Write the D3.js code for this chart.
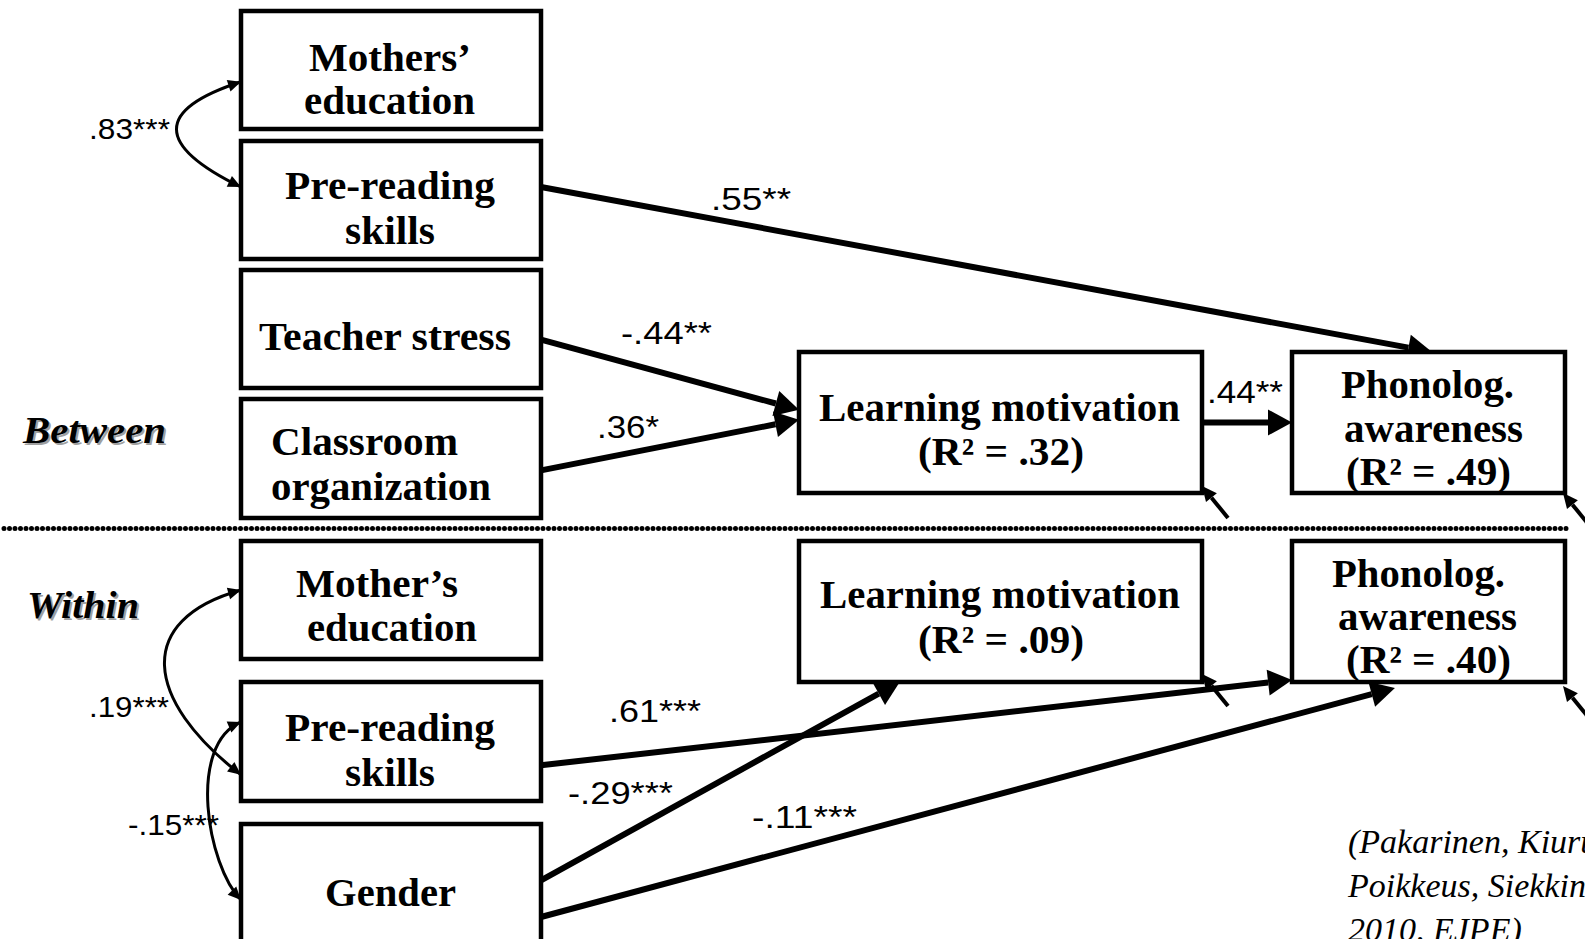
<!DOCTYPE html>
<html><head><meta charset="utf-8">
<script src="https://cdn.jsdelivr.net/npm/d3@7"></script>
<style>html,body{margin:0;padding:0;background:#fff;overflow:hidden}svg{display:block}</style>
</head><body>
<script>
// ---------------- DATA ----------------
const levels = ["Between", "Within"];
const nodeIds = ["motherB","preB","teacher","classroom","lmB","paB","motherW","preW","gender","lmW","paW"];
const nodeLabels = [
  ["Mothers’","education"], ["Pre-reading","skills"], ["Teacher stress"], ["Classroom","organization"],
  ["Learning motivation"], ["Phonolog.","awareness"],
  ["Mother’s","education"], ["Pre-reading","skills"], ["Gender"],
  ["Learning motivation"], ["Phonolog.","awareness"]
];
const r2Nodes = ["lmB","paB","lmW","paW"];
const r2Values = [".32",".49",".09",".40"];
// directed paths
const pathFrom = ["preB","teacher","classroom","lmB","preW","gender","gender"];
const pathTo   = ["paB","lmB","lmB","paB","paW","lmW","paW"];
const pathCoef = [".55**","-.44**",".36*",".44**",".61***","-.29***","-.11***"];
// correlations (double-headed)
const corrA = ["motherB","motherW","preW"];
const corrB = ["preB","preW","gender"];
const corrCoef = [".83***",".19***","-.15***"];
// residual (disturbance) arrows
const residualNodes = ["lmB","paB","lmW","paW"];
const citationLines = ["(Pakarinen, Kiuru, Lerkkanen,","Poikkeus, Siekkinen, & Nurmi,","2010, EJPE)"];

// ---------------- LAYOUT ----------------
const W = 1585, H = 939;
const nodeCol = ["pred","pred","pred","pred","med","out","pred","pred","pred","med","out"];
const colX = d3.scaleOrdinal().domain(["pred","med","out"]).range([241, 799, 1292]);
const colW = d3.scaleOrdinal().domain(["pred","med","out"]).range([300, 403, 273]);
const rowTop = d3.scaleOrdinal().domain(nodeIds).range([11,141,270,399,352,352,541,682,824,541,541]);
const rowH = d3.scaleOrdinal().domain(nodeIds).range([118,118,118,119,141,141,118,119,131,141,141]);
// text lines per node: [x, baseline, width]
const textLayout = {
  motherB:[[309,71,162],[304,114,171]],
  preB:[[285,199,210],[345,244,90]],
  teacher:[[259,350,252]],
  classroom:[[271,455,187],[271,500,220]],
  lmB:[[819,421,361],[918,465,166]],
  paB:[[1341,398,173],[1344,442,179],[1346,485,165]],
  motherW:[[296,597,162],[307,641,170]],
  preW:[[285,741,210],[345,786,90]],
  gender:[[325,906,131]],
  lmW:[[820,608,360],[918,653,166]],
  paW:[[1332,587,173],[1338,630,179],[1346,673,165]]
};
// path anchors: [fromSide, fromFrac, toSide, toFrac]
const pathAnchors = [
  ["right",0.39,"top",0.513],
  ["right",0.59,"left",0.41],
  ["right",0.60,"left",0.48],
  ["right",0.50,"left",0.50],
  ["right",0.70,"left",0.985],
  ["right",0.43,"bottom",0.25],
  ["right",0.71,"bottom",0.377]
];
const pathTipOffset = [[0,0],[0,0],[0,0],[0,0],[0,0],[0,0],[0,6]];
const pathLabelPos = [[711,210,80],[621,344,91],[597,438,62],[1207,403,76],[609,722,92],[568,804,105],[752,828,105]];
// correlations: [fracA, fracB, c1dx, c1dy, c2dx, c2dy]
const corrAnchors = [
  [0.60,0.39,-86,28,-86,-42],
  [0.415,0.78,-107,30,-97,-75],
  [0.336,0.58,-54,23,-34,-35]
];
const corrLabelPos = [[89,139,81],[89,717,80],[128,835,91]];
const levelLabelPos = [[23,443,143],[27,618,112]];
const residualTipOffset = [[0,-7],[-2,0],[0,-8],[-2,4]];
const residualVec = [26,32];

// ---------------- DRAW ----------------
const svg = d3.select("body").append("svg").attr("width",W).attr("height",H)
  .style("font-family","'Liberation Serif','Times New Roman',serif");
svg.append("rect").attr("width",W).attr("height",H).attr("fill","#fff");

function box(id){ const i = nodeIds.indexOf(id); return {x:colX(nodeCol[i]), y:rowTop(id), w:colW(nodeCol[i]), h:rowH(id)}; }
function anchor(id, side, f){
  const b = box(id);
  if (side==="right") return [b.x+b.w, b.y+f*b.h];
  if (side==="left") return [b.x, b.y+f*b.h];
  if (side==="top") return [b.x+f*b.w, b.y];
  return [b.x+f*b.w, b.y+b.h];
}
function head(tip, dir, L, hw){
  const len = Math.hypot(dir[0],dir[1]); const ux=dir[0]/len, uy=dir[1]/len;
  const bx = tip[0]-L*ux, by = tip[1]-L*uy;
  return [[tip[0],tip[1]],[bx-hw*uy, by+hw*ux],[bx+hw*uy, by-hw*ux]];
}
const gLines = svg.append("g");
const gBoxes = svg.append("g");
const gText = svg.append("g");

// dotted separator
gLines.append("line").attr("x1",4).attr("x2",1567).attr("y1",528.5).attr("y2",528.5)
  .attr("stroke","#000").attr("stroke-width",5).attr("stroke-dasharray","0 5.5").attr("stroke-linecap","round");

// boxes
gBoxes.selectAll("rect.node").data(nodeIds).join("rect").attr("class","node")
  .attr("x",d=>box(d).x).attr("y",d=>box(d).y).attr("width",d=>box(d).w).attr("height",d=>box(d).h)
  .attr("fill","#fff").attr("stroke","#000").attr("stroke-width",4.5);

// node labels
nodeIds.forEach((id,i)=>{
  const lines = nodeLabels[i].slice();
  const r = r2Nodes.indexOf(id);
  if (r>=0) lines.push(`(R² = ${r2Values[r]})`);
  lines.forEach((s,j)=>{
    const [x,y,w] = textLayout[id][j];
    gText.append("text").attr("x",x).attr("y",y).attr("font-size",39).attr("font-weight","bold")
      .attr("textLength",w).attr("lengthAdjust","spacingAndGlyphs").text(s);
  });
});

// level labels with shadow
levels.forEach((s,i)=>{
  const [x,y,w] = levelLabelPos[i];
  [["#a0a0a0",2],["#000",0]].forEach(([c,o])=>{
    gText.append("text").attr("x",x+o).attr("y",y+o).attr("font-size",37).attr("font-weight","bold")
      .attr("font-style","italic").attr("fill",c).attr("textLength",w).attr("lengthAdjust","spacingAndGlyphs").text(s);
  });
});

// directed paths
pathFrom.forEach((f,i)=>{
  const a = pathAnchors[i];
  const p0 = anchor(f,a[0],a[1]);
  const t = anchor(pathTo[i],a[2],a[3]);
  const tip = [t[0]+pathTipOffset[i][0], t[1]+pathTipOffset[i][1]];
  const dir = [tip[0]-p0[0], tip[1]-p0[1]];
  const hd = head(tip, dir, 24, 13);
  const end = [(hd[1][0]+hd[2][0])/2, (hd[1][1]+hd[2][1])/2];
  gLines.append("path").attr("d", d3.line()([p0, end])).attr("stroke","#000").attr("stroke-width",6).attr("fill","none");
  gLines.append("path").attr("d", d3.line()(hd)+"Z").attr("fill","#000");
  const [lx,ly,lw] = pathLabelPos[i];
  gText.append("text").attr("x",lx).attr("y",ly).attr("font-size",32)
    .style("font-family","'Liberation Sans',Arial,sans-serif")
    .attr("textLength",lw).attr("lengthAdjust","spacingAndGlyphs").text(pathCoef[i]);
});

// correlations
corrA.forEach((a,i)=>{
  const c = corrAnchors[i];
  const P0 = anchor(a,"left",c[0]);
  const P3 = anchor(corrB[i],"left",c[1]);
  const P1 = [P0[0]+c[2], P0[1]+c[3]];
  const P2 = [P3[0]+c[4], P3[1]+c[5]];
  const h0 = head(P0, [P0[0]-P1[0], P0[1]-P1[1]], 13, 6);
  const h3 = head(P3, [P3[0]-P2[0], P3[1]-P2[1]], 13, 6);
  const path = d3.path();
  path.moveTo(...P0); path.bezierCurveTo(...P1, ...P2, ...P3);
  gLines.append("path").attr("d", path.toString()).attr("stroke","#000").attr("stroke-width",3).attr("fill","none");
  [h0,h3].forEach(h=>gLines.append("path").attr("d", d3.line()(h)+"Z").attr("fill","#000"));
  const [lx,ly,lw] = corrLabelPos[i];
  gText.append("text").attr("x",lx).attr("y",ly).attr("font-size",29)
    .style("font-family","'Liberation Sans',Arial,sans-serif")
    .attr("textLength",lw).attr("lengthAdjust","spacingAndGlyphs").text(corrCoef[i]);
});

// residual arrows
residualNodes.forEach((id,i)=>{
  const c = anchor(id,"bottom",1);
  const tip = [c[0]+residualTipOffset[i][0], c[1]+residualTipOffset[i][1]];
  const tail = [tip[0]+residualVec[0], tip[1]+residualVec[1]];
  const hd = head(tip, [tip[0]-tail[0], tip[1]-tail[1]], 15, 7);
  const end = [(hd[1][0]+hd[2][0])/2, (hd[1][1]+hd[2][1])/2];
  gLines.append("path").attr("d", d3.line()([tail,end])).attr("stroke","#000").attr("stroke-width",4);
  gLines.append("path").attr("d", d3.line()(hd)+"Z").attr("fill","#000");
});

// citation (runs off the right edge, as in the reference)
citationLines.forEach((s,i)=>{
  gText.append("text").attr("x",1348).attr("y",853+i*44).attr("font-size",34).attr("font-style","italic").text(s);
});
</script>
</body></html>
